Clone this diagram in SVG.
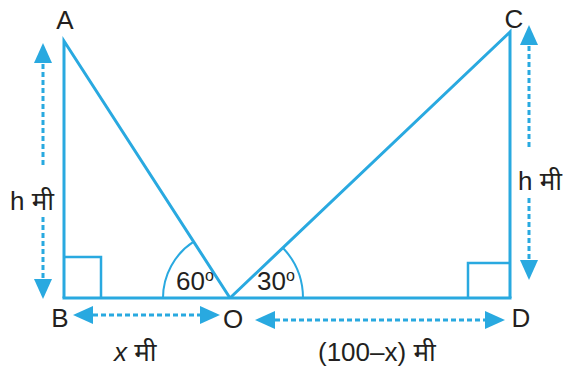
<svg xmlns="http://www.w3.org/2000/svg" width="568" height="367" viewBox="0 0 568 367">
<style>
.ln{stroke:#29a9e0;stroke-width:3;fill:none;stroke-linejoin:miter}
.bx{stroke:#29a9e0;stroke-width:2.5;fill:none}
.arc{stroke:#29a9e0;stroke-width:2;fill:none}
.dash{stroke:#29a9e0;stroke-width:3;stroke-dasharray:5 3;fill:none}
text{font-family:"Liberation Sans","Noto Sans","Noto Sans Devanagari",sans-serif;font-size:26px;fill:#231f20}
.sup{font-size:16px}
</style>
<defs>
<marker id="ah" viewBox="0 0 20 18" refX="0" refY="9" markerWidth="20" markerHeight="18" markerUnits="userSpaceOnUse" orient="auto-start-reverse">
<path d="M0,0 L20,9 L0,18 Z" fill="#29a9e0"/>
</marker>
</defs>
<rect width="568" height="367" fill="#ffffff"/>

<g id="connectors">
<path class="ln" d="M64,298 L64,41 L230,298"/>
<path class="ln" d="M230,298 L510,32 L510,298"/>
<path class="ln" d="M62.5,298 L511.5,298"/>
<path class="bx" d="M64,257 L101,257 L101,298"/>
<path class="bx" d="M468,298 L468,263 L510,263"/>
<path class="arc" d="M163,298 A67,67 0 0 1 193.7,241.7"/>
<path class="arc" d="M303,298 A73,73 0 0 0 283,248"/>
<line class="dash" x1="43" y1="165" x2="43" y2="63" marker-end="url(#ah)"/>
<line class="dash" x1="43" y1="217" x2="43" y2="279" marker-end="url(#ah)"/>
<line class="dash" x1="529" y1="147" x2="529" y2="45" marker-end="url(#ah)"/>
<line class="dash" x1="529" y1="198" x2="529" y2="260" marker-end="url(#ah)"/>
<line class="dash" x1="93" y1="315" x2="200" y2="315" marker-start="url(#ah)" marker-end="url(#ah)"/>
<line class="dash" x1="275" y1="320" x2="485" y2="320" marker-start="url(#ah)" marker-end="url(#ah)"/>
</g>

<g id="A"><text x="65" y="29" text-anchor="middle">A</text></g>
<g id="B"><text x="60" y="327" text-anchor="middle">B</text></g>
<g id="C"><text x="514" y="28" text-anchor="middle">C</text></g>
<g id="D"><text x="521" y="327" text-anchor="middle">D</text></g>
<g id="O"><text x="233" y="328" text-anchor="middle">O</text></g>

<g id="labels">
<text x="10" y="210">h मी</text>
<text x="518" y="190">h मी</text>
<text x="176" y="290">60<tspan class="sup" dy="-9">o</tspan></text>
<text x="257" y="290">30<tspan class="sup" dy="-9">o</tspan></text>
<text x="114" y="361"><tspan font-style="italic">x</tspan> मी</text>
<text x="318" y="361">(100–x) मी</text>
</g>
</svg>
